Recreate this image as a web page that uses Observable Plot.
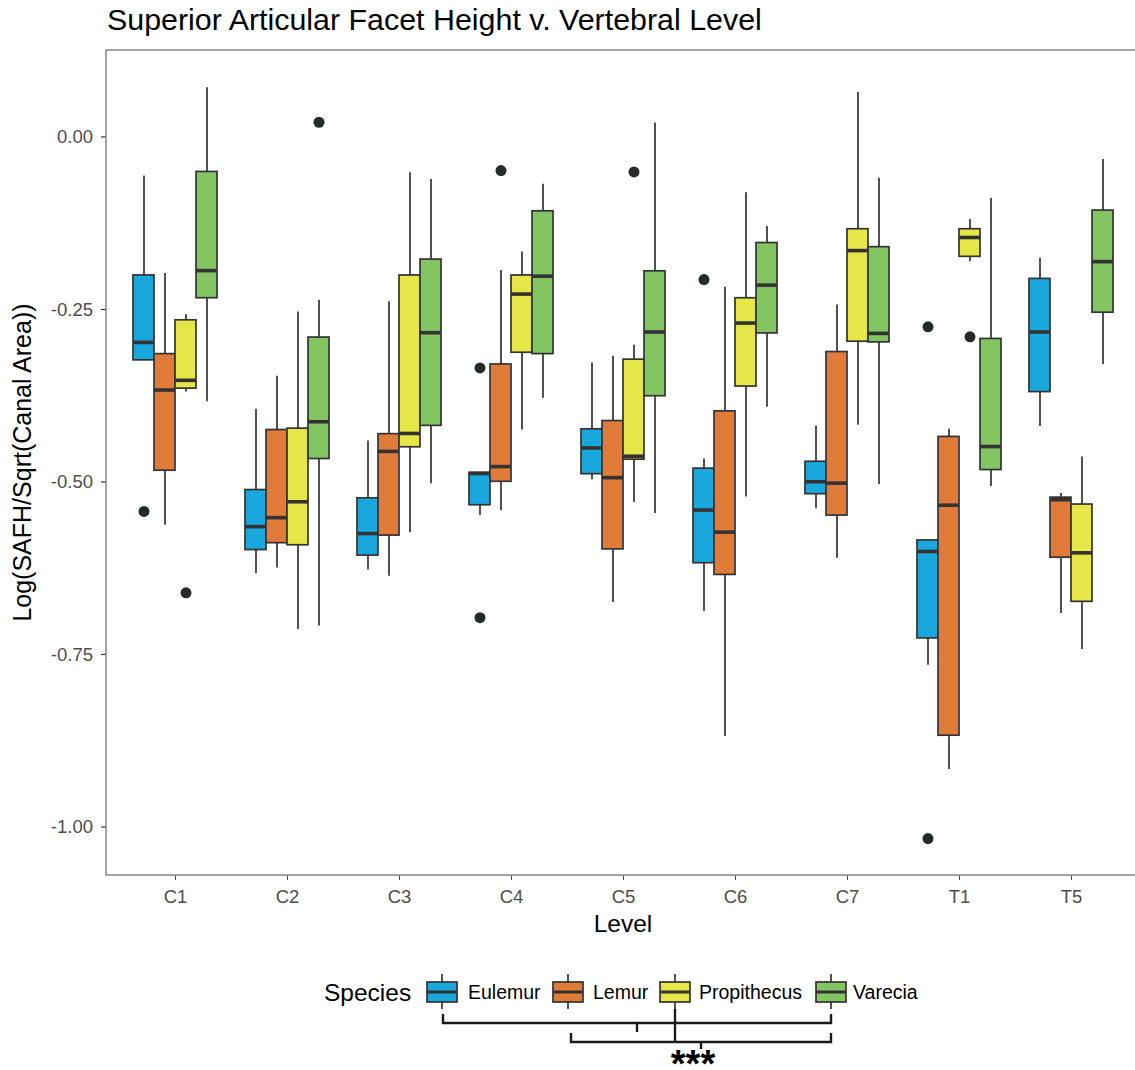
<!DOCTYPE html>
<html>
<head>
<meta charset="utf-8">
<script src="https://cdn.jsdelivr.net/npm/d3@7"></script>
<script src="https://cdn.jsdelivr.net/npm/@observablehq/plot@0.6"></script>
<style>
  html, body { margin: 0; padding: 0; background: #fff; overflow: hidden; width: 1135px; height: 1070px; }
  body { font-family: "Liberation Sans", Arial, Helvetica, sans-serif; }
  svg { display: block; }
</style>
</head>
<body>
<div id="title"></div>
<div id="chart"></div>
<div id="legend"></div>
<script>
// ---------------- DATA ----------------
const levels = ["C1", "C2", "C3", "C4", "C5", "C6", "C7", "T1", "T5"];
const species = ["Eulemur", "Lemur", "Propithecus", "Varecia"];
const speciesColors = ["#1aa7de", "#e07b39", "#e6e649", "#82c562"];
const yTicks = [0, -0.25, -0.5, -0.75, -1];

// each row = one level; columns = Eulemur, Lemur, Propithecus, Varecia
const whiskerLow = [
  [-0.323, -0.562, -0.369, -0.383],
  [-0.632, -0.624, -0.713, -0.708],
  [-0.627, -0.636, -0.573, -0.502],
  [-0.548, -0.541, -0.424, -0.378],
  [-0.496, -0.674, -0.529, -0.545],
  [-0.687, -0.868, -0.521, -0.391],
  [-0.538, -0.610, -0.417, -0.503],
  [-0.765, -0.916, -0.180, -0.506],
  [-0.419, -0.690, -0.742, -0.329]
];
const lowerHinge = [
  [-0.323, -0.483, -0.364, -0.233],
  [-0.598, -0.588, -0.591, -0.466],
  [-0.606, -0.577, -0.449, -0.418],
  [-0.533, -0.499, -0.312, -0.314],
  [-0.488, -0.597, -0.467, -0.375],
  [-0.617, -0.634, -0.361, -0.284],
  [-0.517, -0.548, -0.296, -0.297],
  [-0.726, -0.867, -0.173, -0.482],
  [-0.369, -0.609, -0.673, -0.254]
];
const medians = [
  [-0.297, -0.366, -0.352, -0.193],
  [-0.564, -0.551, -0.528, -0.412],
  [-0.574, -0.455, -0.429, -0.283],
  [-0.487, -0.477, -0.227, -0.201],
  [-0.450, -0.493, -0.462, -0.282],
  [-0.540, -0.572, -0.269, -0.214],
  [-0.499, -0.501, -0.164, -0.284],
  [-0.600, -0.533, -0.145, -0.448],
  [-0.282, -0.525, -0.602, -0.180]
];
const upperHinge = [
  [-0.200, -0.314, -0.265, -0.050],
  [-0.511, -0.424, -0.422, -0.290],
  [-0.523, -0.430, -0.200, -0.177],
  [-0.486, -0.329, -0.200, -0.107],
  [-0.423, -0.411, -0.322, -0.194],
  [-0.480, -0.397, -0.233, -0.153],
  [-0.470, -0.311, -0.133, -0.159],
  [-0.584, -0.434, -0.133, -0.292],
  [-0.205, -0.522, -0.532, -0.106]
];
const whiskerHigh = [
  [-0.056, -0.197, -0.257, 0.072],
  [-0.394, -0.346, -0.253, -0.236],
  [-0.440, -0.238, -0.051, -0.061],
  [-0.486, -0.193, -0.166, -0.068],
  [-0.327, -0.317, -0.301, 0.021],
  [-0.466, -0.217, -0.080, -0.129],
  [-0.418, -0.243, 0.065, -0.059],
  [-0.584, -0.423, -0.119, -0.088],
  [-0.175, -0.516, -0.463, -0.032]
];
const outlierLevels  = ["C1", "C1", "C2", "C4", "C4", "C4", "C5", "C6", "T1", "T1", "T1"];
const outlierSpecies = ["Eulemur", "Propithecus", "Varecia", "Eulemur", "Eulemur", "Lemur", "Propithecus", "Eulemur", "Eulemur", "Eulemur", "Propithecus"];
const outlierValues  = [-0.542, -0.660, 0.022, -0.334, -0.696, -0.048, -0.050, -0.206, -0.2745, -1.016, -0.289];

// ---------------- TABLES ----------------
const boxes = [];
levels.forEach((level, i) => species.forEach((sp, j) => boxes.push({
  level, species: sp,
  lo: whiskerLow[i][j], q1: lowerHinge[i][j], med: medians[i][j],
  q3: upperHinge[i][j], hi: whiskerHigh[i][j]
})));
const outliers = outlierValues.map((value, k) => ({level: outlierLevels[k], species: outlierSpecies[k], value}));

// ---------------- TITLE ----------------
const FONT = '"Liberation Sans", Arial, Helvetica, sans-serif';
const titleSvg = d3.select("#title").append("svg").attr("width", 1135).attr("height", 42);
titleSvg.append("text").attr("x", 107).attr("y", 30)
  .attr("font-family", FONT).attr("font-size", 30.4).attr("fill", "#000")
  .text("Superior Articular Facet Height v. Vertebral Level");

// ---------------- PLOT ----------------
const W = 1135, H = 903, mL = 106, mR = -5, mT = 8, mB = 70;
const ink = "#333333";

const plot = Plot.plot({
  width: W, height: H,
  marginLeft: mL, marginRight: mR, marginTop: mT, marginBottom: mB,
  style: {fontFamily: FONT, fontSize: "18.5px", color: "#4d4d4d", background: "white", overflow: "hidden"},
  fx: {domain: levels, paddingInner: 0.25, paddingOuter: 0.225, label: null, tickSize: 5, tickPadding: 9},
  x: {domain: species, padding: 0, axis: null},
  y: {domain: [-1.0696, 0.126], axis: null},
  color: {domain: species, range: speciesColors},
  marks: [
    Plot.ruleX(boxes, {fx: "level", x: "species", y1: "lo", y2: "hi", stroke: ink, strokeWidth: 1.7}),
    Plot.barY(boxes, {fx: "level", x: "species", y1: "q1", y2: "q3", fill: "species", stroke: ink, strokeWidth: 1.7}),
    Plot.tickY(boxes, {fx: "level", x: "species", y: "med", stroke: ink, strokeWidth: 3.6}),
    Plot.dot(outliers, {fx: "level", x: "species", y: "value", r: 5.5, fill: "#262a2a", stroke: "none"})
  ]
});
document.getElementById("chart").appendChild(plot);

const ps = d3.select(plot);
const yScale = plot.scale("y");
// y axis (ticks + labels) at the panel's left edge, positioned by Plot's y scale
const yAxis = ps.append("g");
yTicks.forEach(t => {
  const yy = yScale.apply(t);
  yAxis.append("line").attr("x1", mL - 5).attr("x2", mL).attr("y1", yy).attr("y2", yy)
    .attr("stroke", ink).attr("stroke-width", 1.2);
  yAxis.append("text").attr("x", mL - 13).attr("y", yy).attr("dy", "0.34em")
    .attr("text-anchor", "end").attr("font-family", FONT).attr("font-size", 18.5).attr("fill", "#4d4d4d")
    .text(t.toFixed(2));
});
// panel border
ps.append("rect")
  .attr("x", mL).attr("y", mT).attr("width", W - mL - mR).attr("height", H - mT - mB)
  .attr("fill", "none").attr("stroke", "#7f7f7f").attr("stroke-width", 1.4);
// axis titles
ps.append("text")
  .attr("transform", `translate(31,${(mT + H - mB) / 2}) rotate(-90)`)
  .attr("text-anchor", "middle").attr("font-family", FONT).attr("font-size", 25).attr("fill", "#000")
  .text("Log(SAFH/Sqrt(Canal Area))");
ps.append("text")
  .attr("x", (mL + W - mR) / 2).attr("y", 890)
  .attr("text-anchor", "middle").attr("font-family", FONT).attr("font-size", 24.5).attr("fill", "#000")
  .text("Level");

// ---------------- LEGEND ----------------
const lg = d3.select("#legend").append("svg").attr("width", 1135).attr("height", 125).style("overflow", "visible");
const top0 = 945;
lg.append("text").attr("x", 324).attr("y", 1000.5 - top0)
  .attr("font-family", FONT).attr("font-size", 24.5).attr("fill", "#000").text("Species");
const keyX = [427, 553, 660, 816];
const labX = [468, 593, 699, 853];
species.forEach((sp, i) => {
  const cx = keyX[i] + 15;
  lg.append("line").attr("x1", cx).attr("x2", cx).attr("y1", 974 - top0).attr("y2", 1009 - top0)
    .attr("stroke", ink).attr("stroke-width", 1.7);
  lg.append("rect").attr("x", keyX[i]).attr("y", 982 - top0).attr("width", 30).attr("height", 20)
    .attr("fill", speciesColors[i]).attr("stroke", ink).attr("stroke-width", 1.7);
  lg.append("line").attr("x1", keyX[i]).attr("x2", keyX[i] + 30).attr("y1", 992 - top0).attr("y2", 992 - top0)
    .attr("stroke", ink).attr("stroke-width", 3);
  lg.append("text").attr("x", labX[i]).attr("y", 999 - top0)
    .attr("font-family", FONT).attr("font-size", 19.5).attr("fill", "#000").text(sp);
});
// significance brackets
const br = "#1a1a1a";
const pathD = [
  `M443,${1014 - top0}V${1023 - top0}H831V${1014 - top0}`,
  `M637,${1023 - top0}V${1032 - top0}`,
  `M571,${1033 - top0}V${1042 - top0}H831V${1033 - top0}`,
  `M701,${1042 - top0}V${1049 - top0}`,
  `M675,${1009 - top0}V${1042 - top0}`
];
pathD.forEach(d => lg.append("path").attr("d", d).attr("fill", "none").attr("stroke", br).attr("stroke-width", 2.4));
lg.append("text").attr("x", 693).attr("y", 1077 - top0).attr("text-anchor", "middle")
  .attr("font-family", FONT).attr("font-size", 38).attr("font-weight", "bold").attr("fill", "#000").text("***");
</script>
</body>
</html>
